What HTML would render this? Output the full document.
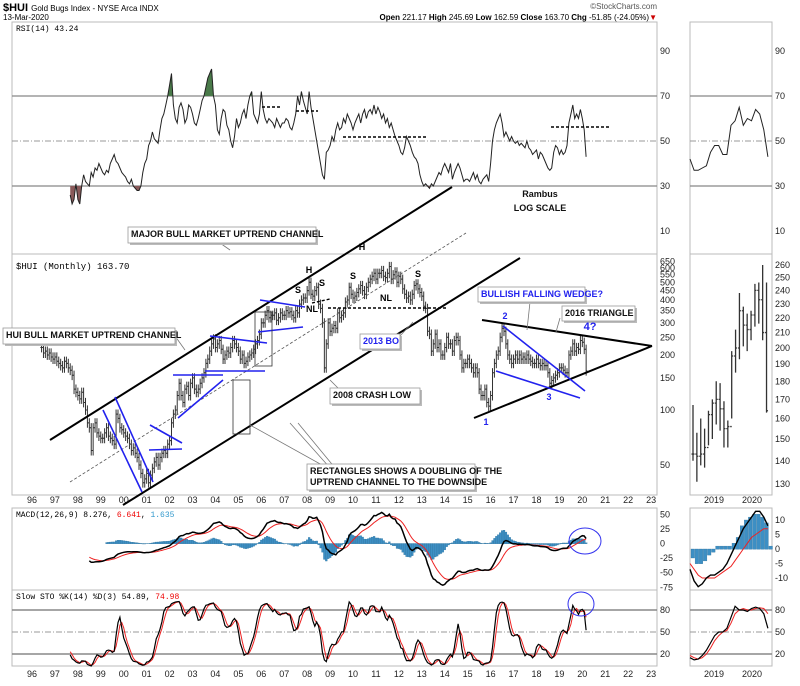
<!DOCTYPE html>
<html><head><meta charset="utf-8"><style>
body{margin:0;background:#fff;}
svg{display:block;font-family:"Liberation Sans",sans-serif;}
.ax{font-size:9px;fill:#222;}
.nb{font-family:"Liberation Sans Narrow","Liberation Sans",sans-serif;font-weight:bold;font-size:9px;fill:#111;}
</style></head><body>
<svg id="c" width="800" height="686" viewBox="0 0 800 686">
<g id="static">
<text x="3" y="11" font-size="11" font-weight="bold">$HUI <tspan font-size="8" font-weight="normal">Gold Bugs Index - NYSE Arca  INDX</tspan></text>
<text x="3" y="20" font-size="8">13-Mar-2020</text>
<text x="657" y="9" font-size="8" text-anchor="end" fill="#555">©StockCharts.com</text>
<text x="657" y="20" font-size="8" text-anchor="end"><tspan font-weight="bold">Open</tspan> 221.17 <tspan font-weight="bold">High</tspan> 245.69 <tspan font-weight="bold">Low</tspan> 162.59 <tspan font-weight="bold">Close</tspan> 163.70 <tspan font-weight="bold">Chg</tspan> -51.85 (-24.05%)<tspan fill="#c00">▼</tspan></text>
<rect x="12" y="22" width="645" height="232" fill="none" stroke="#bbb"/>
<rect x="690" y="22" width="82" height="232" fill="none" stroke="#bbb"/>
<rect x="12" y="254" width="645" height="241" fill="none" stroke="#bbb"/>
<rect x="690" y="254" width="82" height="241" fill="none" stroke="#bbb"/>
<rect x="12" y="508" width="645" height="82" fill="none" stroke="#bbb"/>
<rect x="690" y="508" width="82" height="82" fill="none" stroke="#bbb"/>
<rect x="12" y="590" width="645" height="76" fill="none" stroke="#bbb"/>
<rect x="690" y="590" width="82" height="76" fill="none" stroke="#bbb"/>
<text x="16" y="31" font-size="8" font-family="Liberation Mono,monospace">RSI(14) 43.24</text>
<text x="16" y="269" font-size="9" font-family="Liberation Mono,monospace">$HUI (Monthly) 163.70</text>
<text x="16" y="517" font-size="8" font-family="Liberation Mono,monospace">MACD(12,26,9) 8.276, <tspan fill="#e00">6.641</tspan>, <tspan fill="#39c">1.635</tspan></text>
<text x="16" y="599" font-size="8" font-family="Liberation Mono,monospace">Slow STO %K(14) %D(3) 54.89, <tspan fill="#e00">74.98</tspan></text>
<text x="540" y="197" class="nb" text-anchor="middle">Rambus</text>
<text x="540" y="211" class="nb" text-anchor="middle">LOG SCALE</text>
</g>
<g id="g-grid"></g><g id="g-marks"></g><g id="g-ann"></g>
</svg>
<script>
// ---------- data ----------
const startYear = 1996 + 5/12; // Jun 1996
const closes = [220,205,210,200,205,195,190,
195,185,180,175,170,185,180,170,165,155,130,125,
120,115,125,110,100,85,80,60,80,85,75,72,
70,70,75,80,72,70,68,65,95,90,80,78,
75,72,70,65,60,62,58,55,50,45,40,42,
45,40,44,48,52,55,50,55,58,60,58,65,
68,85,95,100,120,140,120,110,130,135,120,140,
150,130,125,130,140,150,160,180,190,210,230,245,
220,230,240,215,190,200,210,205,220,240,230,220,
210,190,200,180,185,195,200,205,215,230,240,260,
300,300,330,350,320,330,330,340,310,320,340,330,
330,350,340,345,330,320,350,340,380,400,410,410,
450,500,430,420,450,470,380,360,300,170,230,300,
270,280,290,280,340,320,330,340,390,400,470,430,
410,420,440,460,480,450,430,470,500,520,540,560,
520,560,560,580,540,530,560,610,520,550,570,500,
540,520,460,430,410,420,400,430,480,490,460,440,
420,370,360,270,260,210,230,260,220,230,200,200,
220,250,230,230,210,240,250,240,200,170,180,180,
190,180,170,160,170,160,130,120,120,130,110,105,
120,160,180,200,210,250,280,270,230,200,190,180,
190,200,190,200,190,195,190,200,190,185,180,180,
190,180,175,180,175,175,160,140,145,150,155,160,
170,170,165,160,160,200,210,230,210,220,215,240,
235,215,164];
// RSI(14), monthly from Sep 1997
const rsiStart = 15;
const rsiValues = [26,22,24,31,
24,22,30,35,32,31,30,36,34,38,37,40,
38,36,35,37,36,40,42,44,41,40,38,36,
35,34,32,31,33,30,29,28,28,30,36,40,
42,48,50,54,51,50,49,55,60,62,66,70,
75,80,66,60,58,65,67,64,58,60,66,65,
62,58,57,60,64,68,70,74,78,80,82,70,
66,55,53,60,64,63,57,55,50,47,52,60,
56,58,62,64,60,66,70,72,62,60,58,62,
72,64,60,58,60,59,58,56,60,58,56,58,
58,60,59,56,55,58,62,70,66,72,68,65,
62,72,65,60,55,50,45,40,35,33,45,46,
48,52,50,55,58,55,56,60,58,62,60,58,
55,58,60,62,58,62,64,60,63,64,62,66,
62,65,63,60,62,58,60,56,58,55,52,50,
48,45,44,47,52,50,48,45,43,42,40,35,
32,30,31,30,29,31,30,32,34,36,35,38,
40,38,36,40,33,36,38,40,38,35,32,33,
33,32,34,36,33,35,32,31,33,34,35,32,
40,50,55,58,60,62,58,52,54,52,50,52,
50,49,50,48,49,48,47,50,47,46,44,45,
46,42,45,44,42,40,38,37,38,45,48,47,
44,46,44,45,48,58,62,66,60,62,60,64,
60,55,43];
const yearLabels = ["96","97","98","99","00","01","02","03","04","05","06","07","08","09","10","11","12","13","14","15","16","17","18","19","20","21","22","23"];
const priceTicks = [650,600,550,500,450,400,350,300,250,200,150,100,50];
const rsiTicks = [90,70,50,30,10];
const macdTicks = [50,25,0,-25,-50,-75];
const stoTicks = [80,50,20];
// mini panel (recent bars)
const miniHigh = [167,153,160,155,164,170,180,179,169,159,198,212,238,228,223,225,245,246,260,246];
const miniLow  = [140,131,138,137,147,150,157,154,146,146,160,185,193,201,198,205,214,216,205,163];
const miniClose= [143,142,143,146,162,168,170,165,155,156,195,200,225,215,212,222,240,233,210,164];
const miniPriceTicks = [260,250,240,230,220,210,200,190,180,170,160,150,140,130];
const miniRsi = [42,37,37,38,39,45,48,48,44,44,57,59,65,57,60,59,64,62,55,43];
const miniMacd = [-7,-11,-13,-12,-10,-9,-9,-8,-7,-5,-2,1,4,7,9,11,13,13,11,8];
const miniSignal = [-5,-7,-9,-10,-10,-10,-10,-9,-8,-7,-6,-4,-2,0,2,4,5,6,7,7];
const miniHist = [-3,-5,-5,-4,-2,-1,1,1,1,1,2,4,8,10,11,12,12,11,9,1];
const miniMacdTicks = [10,5,0,-5,-10];
const miniK = [15,12,13,18,25,35,45,50,50,55,70,85,80,80,78,82,84,82,75,55];
const miniD = [18,15,13,15,20,28,38,45,50,52,62,75,80,82,80,80,82,83,82,75];
const miniYears = ["2019","2020"];

// ---------- scales ----------
const NS="http://www.w3.org/2000/svg";
const xT = t => 32 + (t-1996)*22.93;
const xI = i => xT(startYear + i/12);
const yP = p => 410 - Math.log10(p/100)*182.7;
const yR = v => 186 - (v-30)*2.25;
const yM = v => 543.5 - v*0.584;
const yS = v => 632 - (v-50)*0.733;
const xm = i => 693 + i*3.87;
const yPm = p => 348 - Math.log10(p/200)*728;
const yMm = v => 549 - v*2.9;
function el(tag, attrs, parent){const e=document.createElementNS(NS,tag);for(const k in attrs)e.setAttribute(k,attrs[k]);parent.appendChild(e);return e;}
const G=document.getElementById('g-grid'),M=document.getElementById('g-marks'),A=document.getElementById('g-ann');
function txt(x,y,s,parent,cls,anchor){const t=el('text',{x:x,y:y,class:cls||'ax','text-anchor':anchor||'start'},parent);t.textContent=s;return t;}

// ---------- grids & ticks ----------
rsiTicks.forEach(v=>{
  let t=txt(660,yR(v)+3,v,G);
  
  t=txt(775,yR(v)+3,v,G);
  
  if(v===70||v===30||v===50){
    [[12,657],[690,772]].forEach(r=>{
      const l=el('line',{x1:r[0],x2:r[1],y1:yR(v),y2:yR(v),stroke:v===50?'#999':'#888','stroke-width':v===50?1:1.2,'stroke-dasharray':v===50?'6,2,1,2':'none'},G);
      
    });
  }
});
priceTicks.forEach(p=>{
  const t=txt(660,yP(p)+3,p,G);
  
});
miniPriceTicks.forEach(p=>{
  const t=txt(775,yPm(p)+3,p,G);
  
});
yearLabels.forEach((s,k)=>{
  [503,677].forEach(y=>{
    const t=txt(xT(1996+k),y,s,G,'ax','middle');
    
  });
});
miniYears.forEach((s,k)=>{
  [503,677].forEach(y=>{
    const t=txt(714+k*38,y,s,G,'ax','middle');
    
  });
});
macdTicks.forEach(v=>{
  const t=txt(660,yM(v)+3,v,G);
  
});
miniMacdTicks.forEach(v=>{
  const t=txt(775,yMm(v)+3,v,G);
  
});
stoTicks.forEach(v=>{
  let t=txt(660,yS(v)+3,v,G);
  
  t=txt(775,yS(v)+3,v,G);
  
  [[12,657],[690,772]].forEach(r=>{
    const l=el('line',{x1:r[0],x2:r[1],y1:yS(v),y2:yS(v),stroke:v===50?'#999':'#888','stroke-width':v===50?1:1.5,'stroke-dasharray':v===50?'6,2,1,2':'none'},G);
    
  });
});

// ---------- indicators ----------
const n=closes.length;
const highs=closes.map((c,i)=>Math.max(c,i?closes[i-1]:c)*1.06);
const lows=closes.map((c,i)=>Math.min(c,i?closes[i-1]:c)*0.94);
function ema(arr,p){const k=2/(p+1);const o=[];arr.forEach((v,i)=>o.push(i?v*k+o[i-1]*(1-k):v));return o;}
const e12=ema(closes,12),e26=ema(closes,26);
const macd=closes.map((c,i)=>e12[i]-e26[i]);
const sig=ema(macd,9);
const fastK=closes.map((c,i)=>{const a=Math.max(0,i-13);const hh=Math.max(...highs.slice(a,i+1)),ll=Math.min(...lows.slice(a,i+1));return (c-ll)/(hh-ll)*100;});
const slowK=fastK.map((v,i)=>{const a=Math.max(0,i-2);const s=fastK.slice(a,i+1);return s.reduce((x,y)=>x+y)/s.length;});
const slowD=slowK.map((v,i)=>{const a=Math.max(0,i-2);const s=slowK.slice(a,i+1);return s.reduce((x,y)=>x+y)/s.length;});

function path(pts){return pts.map((p,i)=>(i?'L':'M')+p[0].toFixed(1)+','+p[1].toFixed(1)).join('');}

// RSI fills & line
const rsiPts=rsiValues.map((v,k)=>[xI(rsiStart+k),yR(v)]);
const cp1=el('clipPath',{id:'above70'},M);el('rect',{x:12,y:22,width:645,height:yR(70)-22},cp1);
const cp2=el('clipPath',{id:'below30'},M);el('rect',{x:12,y:yR(30),width:645,height:254-yR(30)},cp2);
let f=el('path',{d:path(rsiPts)+'L'+rsiPts[rsiPts.length-1][0]+','+yR(70)+'L'+rsiPts[0][0]+','+yR(70)+'Z',fill:'#4a7a4a','clip-path':'url(#above70)'},M);

f=el('path',{d:path(rsiPts)+'L'+rsiPts[rsiPts.length-1][0]+','+yR(30)+'L'+rsiPts[0][0]+','+yR(30)+'Z',fill:'#8a5a5a','clip-path':'url(#below30)'},M);

let ln=el('path',{d:path(rsiPts),fill:'none',stroke:'#222','stroke-width':1},M);

ln=el('path',{d:path(miniRsi.map((v,i)=>[690+i*4.1,yR(v)])),fill:'none',stroke:'#222','stroke-width':1},M);


// price bars
for(let i=0;i<n;i++){
  const x=xI(i),o=i?closes[i-1]:closes[i];
  const g=el('path',{d:`M${x},${yP(highs[i])}V${yP(lows[i])}M${x-1.2},${yP(o)}H${x}M${x},${yP(closes[i])}H${x+1.2}`,stroke:'#333','stroke-width':1,fill:'none'},M);
  
}
for(let i=0;i<miniHigh.length;i++){
  const x=xm(i),o=i?miniClose[i-1]:miniClose[i];
  const g=el('path',{d:`M${x},${yPm(miniHigh[i])}V${yPm(miniLow[i])}M${x-1.5},${yPm(o)}H${x}M${x},${yPm(miniClose[i])}H${x+1.5}`,stroke:'#333','stroke-width':1.3,fill:'none'},M);
  
}

// MACD
for(let i=34;i<n;i++){
  const h=macd[i]-sig[i];const x=xI(i);
  const b=el('rect',{x:x-0.9,y:Math.min(yM(0),yM(h)),width:1.9,height:Math.abs(yM(h)-yM(0))+0.3,fill:'#3d8fc4',stroke:'#2a6f9a','stroke-width':0.3},M);
  
}
const mPts=[],sPts=[];for(let i=25;i<n;i++){mPts.push([xI(i),yM(macd[i])]);sPts.push([xI(i),yM(sig[i])]);}
ln=el('path',{d:path(sPts),fill:'none',stroke:'#e22','stroke-width':1},M);

ln=el('path',{d:path(mPts),fill:'none',stroke:'#000','stroke-width':1.5},M);

miniHist.forEach((h,i)=>{
  const b=el('rect',{x:691+i*4.1,y:Math.min(yMm(0),yMm(h)),width:3.6,height:Math.abs(yMm(h)-yMm(0))+0.3,fill:'#3d8fc4',stroke:'#2a6f9a','stroke-width':0.3},M);
  
});
ln=el('path',{d:path(miniSignal.map((v,i)=>[690+i*4.1,yMm(v)])),fill:'none',stroke:'#e22','stroke-width':1},M);

ln=el('path',{d:path(miniMacd.map((v,i)=>[690+i*4.1,yMm(v)])),fill:'none',stroke:'#000','stroke-width':1.4},M);


// STO
const kP=[],dP=[];for(let i=15;i<n;i++){kP.push([xI(i),yS(slowK[i])]);dP.push([xI(i),yS(slowD[i])]);}
ln=el('path',{d:path(dP),fill:'none',stroke:'#e22','stroke-width':1},M);

ln=el('path',{d:path(kP),fill:'none',stroke:'#000','stroke-width':1.2},M);

ln=el('path',{d:path(miniD.map((v,i)=>[690+i*4.1,yS(v)])),fill:'none',stroke:'#e22','stroke-width':1},M);

ln=el('path',{d:path(miniK.map((v,i)=>[690+i*4.1,yS(v)])),fill:'none',stroke:'#000','stroke-width':1.2},M);


// ---------- annotations ----------
function L(x1,y1,x2,y2,c,w,dash,name){const l=el('line',{x1,y1,x2,y2,stroke:c,'stroke-width':w,'stroke-dasharray':dash||'none'},A);
  }
L(50,440,452,187,'#000',2,null,'upper-channel-line');
L(123,505,520,258,'#000',2,null,'lower-channel-line');
L(70,482,466,233,'#555',0.8,'3,2','channel-midline');
L(482,320,652,346,'#000',2,null,'triangle-upper-line');
L(474,418,652,346,'#000',2,null,'triangle-lower-line');
L(503,326,585,391,'#22e',1.6,null,'wedge-upper-line');
L(496,371,580,398,'#22e',1.6,null,'wedge-lower-line');
L(103,410,142,492,'#22e',1.6,null,'blue-trendline');
L(115,397,153,482,'#22e',1.6,null,'blue-trendline');
L(150,425,182,443,'#22e',1.6,null,'blue-trendline');
L(149,450,182,449,'#22e',1.6,null,'blue-trendline');
L(173,375,223,375,'#22e',1.6,null,'blue-trendline');
L(178,418,223,380,'#22e',1.6,null,'blue-trendline');
L(210,336,267,343,'#22e',1.6,null,'blue-trendline');
L(205,371,265,371,'#22e',1.6,null,'blue-trendline');
L(260,300,305,307,'#22e',1.6,null,'blue-trendline');
L(258,332,303,327,'#22e',1.6,null,'blue-trendline');
L(312,303,330,299,'#000',1.4,'3,2','neckline');
L(328,308,448,308,'#000',1.4,'3,2','neckline');
L(262,107,282,107,'#000',1.4,'3,2','rsi-dash-line');
L(296,111,318,111,'#000',1.4,'3,2','rsi-dash-line');
L(343,137,427,137,'#000',1.4,'3,2','rsi-dash-line');
L(551,127,610,127,'#000',1.4,'3,2','rsi-dash-line');
L(290,423,347,487,'#777',0.8,null,'callout-pointer');
L(298,423,345,480,'#777',0.8,null,'callout-pointer');
L(250,425,340,475,'#777',0.8,null,'callout-pointer');
L(330,380,338,388,'#777',0.8,null,'callout-pointer');
L(413,322,400,336,'#777',0.8,null,'callout-pointer');
L(530,302,527,330,'#777',0.8,null,'callout-pointer');
L(560,318,556,332,'#777',0.8,null,'callout-pointer');
L(220,243,230,250,'#777',0.8,null,'callout-pointer');
L(175,336,185,350,'#777',0.8,null,'callout-pointer');
[[255,312,17,54],[233,380,17,54]].forEach(r=>{const e=el('rect',{x:r[0],y:r[1],width:r[2],height:r[3],fill:'none',stroke:'#333','stroke-width':0.8},A);
  });
const ce=el('ellipse',{cx:585,cy:541,rx:16,ry:13,fill:'none',stroke:'#33e','stroke-width':1},A);

const ce2=el('ellipse',{cx:581,cy:604,rx:13,ry:12,fill:'none',stroke:'#33e','stroke-width':1},A);

function box(x,y,w,h,lines,color,name){
  const s=el('rect',{x:x+2,y:y+2,width:w,height:h,fill:'#bbb'},A);
  
  const r=el('rect',{x,y,width:w,height:h,fill:'#fff',stroke:'#999','stroke-width':0.8},A);
  
  lines.forEach((t,k)=>{const e=txt(x+3,y+10+k*11,t,A,'nb');e.setAttribute('fill',color);e.style.fill=color;
    });
}
box(128,227,188,16,['MAJOR BULL MARKET UPTREND CHANNEL'],'#111','major-channel-callout');
box(3,328,172,16,['HUI BULL MARKET UPTREND CHANNEL'],'#111','hui-channel-callout');
box(360,334,40,15,['2013 BO'],'#22e','breakout-callout');
box(330,388,90,16,['2008 CRASH LOW'],'#111','crash-low-callout');
box(307,464,168,26,['RECTANGLES SHOWS A DOUBLING OF THE','UPTREND CHANNEL TO THE DOWNSIDE'],'#111','rectangles-callout');
box(478,287,107,15,['BULLISH FALLING WEDGE?'],'#22e','wedge-callout');
box(562,306,73,15,['2016 TRIANGLE'],'#111','triangle-callout');
[['H',309,273,'#000'],['H',362,250,'#000'],['S',298,293,'#000'],['S',322,286,'#000'],['S',353,279,'#000'],['S',418,277,'#000'],
 ['NL',312,312,'#000'],['NL',386,301,'#000'],['1',486,425,'#22e'],['2',505,319,'#22e'],['3',549,400,'#22e'],['4?',590,330,'#22e']].forEach(a=>{
  const e=txt(a[1],a[2],a[0],A,'nb','middle');e.style.fill=a[3];e.style.fontSize=a[0].length>1&&a[0]!=='NL'?'11px':'9px';
  
});
</script>
</body></html>
